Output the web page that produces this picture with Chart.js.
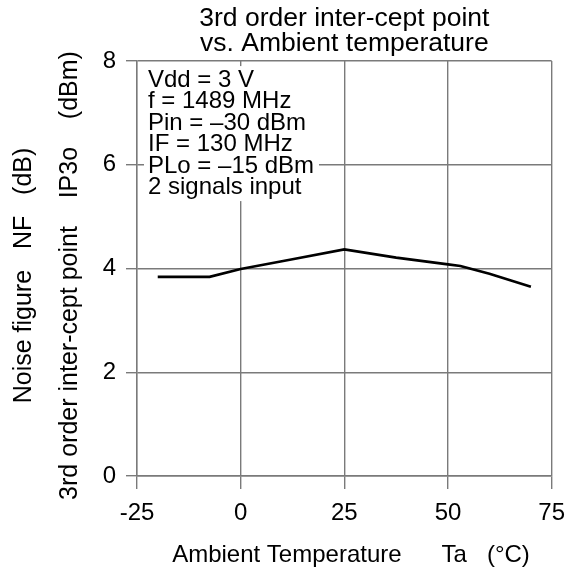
<!DOCTYPE html>
<html>
<head>
<meta charset="utf-8">
<script src="https://cdn.jsdelivr.net/npm/chart.js@4.4.1/dist/chart.umd.min.js"></script>
<style>
  html, body { margin: 0; padding: 0; background: #fff; }
  #wrap { width: 575px; height: 571px; }
</style>
</head>
<body>
<div id="wrap"><canvas id="ipChart" width="575" height="571"></canvas></div>
<script>
// data
const tempC = [-20, -7.5, 0, 12.5, 25, 37.5, 50, 53, 60, 70];
const ip3o = [3.84, 3.84, 3.99, 4.18, 4.37, 4.21, 4.08, 4.05, 3.9, 3.65];

const xTicks = [-25, 0, 25, 50, 75];
const yTicks = [0, 2, 4, 6, 8];

const conditions = [
    'Vdd = 3 V',
    'f = 1489 MHz',
    'Pin = \u201330 dBm',
    'IF = 130 MHz',
    'PLo = \u201315 dBm',
    '2 signals input'
];

const FONT = '"Liberation Sans", Arial, sans-serif';
const GRID = '#7a7a7a';

// condition text box, white behind so the grid stops there
const notePlugin = {
    id: 'note',
    beforeDatasetsDraw(chart) {
        const ctx = chart.ctx;
        const area = chart.chartArea;
        ctx.save();
        ctx.fillStyle = '#fff';
        ctx.fillRect(area.left + 7, area.top + 5, 175, 135);
        ctx.fillStyle = '#000';
        ctx.font = '24px ' + FONT;
        ctx.textBaseline = 'alphabetic';
        conditions.forEach((t, i) => {
            ctx.fillText(t, area.left + 11, area.top + 26 + i * 21.4);
        });
        ctx.restore();
    }
};

const chart = new Chart(document.getElementById('ipChart'), {
    type: 'line',
    data: {
        datasets: [{
            data: tempC.map((t, i) => ({ x: t, y: ip3o[i] })),
            borderColor: '#000',
            borderWidth: 2.6,
            pointRadius: 0,
            tension: 0,
            fill: false
        }]
    },
    options: {
        responsive: false,
        animation: false,
        layout: { padding: { left: 0, right: 23, top: 0, bottom: 0 } },
        plugins: {
            legend: { display: false },
            tooltip: { enabled: false },
            title: {
                display: true,
                fullSize: false,
                text: ['3rd order inter-cept point', 'vs. Ambient temperature'],
                color: '#000',
                font: { family: FONT, size: 26.5, weight: 'normal', lineHeight: 0.945 },
                padding: { top: 6, bottom: 5 }
            }
        },
        scales: {
            x: {
                type: 'linear',
                min: -25,
                max: 75,
                afterBuildTicks: s => { s.ticks = xTicks.map(v => ({ value: v })); },
                afterFit: s => { s.height = 95; },
                grid: { color: GRID, lineWidth: 1.4, tickLength: 13, tickColor: GRID },
                border: { color: GRID, width: 1.4 },
                ticks: { color: '#000', padding: 10, font: { family: FONT, size: 24 } },
                title: {
                    display: true,
                    text: '  Ambient Temperature      Ta   (\u00b0C)',
                    color: '#000',
                    font: { family: FONT, size: 24 },
                    padding: { top: 0, bottom: 1 }
                }
            },
            y: {
                min: 0,
                max: 8,
                afterBuildTicks: s => { s.ticks = yTicks.map(v => ({ value: v })); },
                afterFit: s => { s.width = 137; },
                grid: { color: GRID, lineWidth: 1.4, tickLength: 11, tickColor: GRID },
                border: { color: GRID, width: 1.4 },
                ticks: { color: '#000', padding: 10, font: { family: FONT, size: 24 } },
                title: {
                    display: true,
                    text: ['Noise figure   NF   (dB)  ', '3rd order inter-cept point    IP3o    (dBm)  '],
                    color: '#000',
                    font: { family: FONT, size: 25, lineHeight: 1.84 },
                    padding: { top: 1, bottom: 0 }
                }
            }
        }
    },
    plugins: [notePlugin]
});
</script>
</body>
</html>
